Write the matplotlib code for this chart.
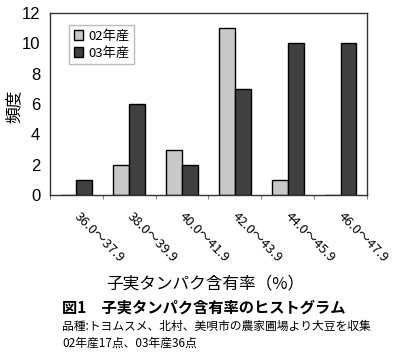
import matplotlib
matplotlib.use("Agg")
import matplotlib.pyplot as plt
import numpy as np

plt.rcParams['font.family'] = ['Noto Sans CJK JP', 'DejaVu Sans']

categories = ["36.0～37.9", "38.0～39.9", "40.0～41.9", "42.0～43.9", "44.0～45.9", "46.0～47.9"]
s02 = [0, 2, 3, 11, 1, 0]
s03 = [1, 6, 2, 7, 10, 10]
series_names = ["02年産", "03年産"]

fig = plt.figure(figsize=(4.0, 3.54), dpi=100)
ax = fig.add_axes([50/400, 1-195/354, 317/400, 182/354])

x = np.arange(len(categories))
w = 0.3
ax.bar(x - w/2, s02, w, color="#c8c8c8", edgecolor="black", linewidth=1.0, label=series_names[0])
ax.bar(x + w/2, s03, w, color="#404040", edgecolor="black", linewidth=1.0, label=series_names[1])

ax.set_xlim(-0.5, len(categories) - 0.5)
ax.set_ylim(0, 12)
ax.set_yticks(range(0, 13, 2))
ax.tick_params(axis='y', length=0, pad=7)
for lab in ax.get_yticklabels():
    lab.set_fontfamily(['Liberation Sans', 'DejaVu Sans'])
    lab.set_fontsize(12)
ax.set_xticks(np.arange(len(categories) + 1) - 0.5)
ax.set_xticklabels([])
ax.tick_params(axis='x', length=3, direction='out', color='#888888')
for i, c in enumerate(categories):
    ax.text(i + 0.08, -1.0, c, rotation=-45, ha='left', va='top', rotation_mode='anchor',
            fontsize=9.5, transform=ax.transData)
for s in ax.spines.values():
    s.set_linewidth(1.0)
    s.set_color('#333333')

fig.text(14/400, 1-106/354, "頻度", rotation=90, ha='center', va='center', fontsize=12)

leg = ax.legend(loc='upper left', bbox_to_anchor=(0.04, 0.97), frameon=True, fancybox=False,
                edgecolor='#aaaaaa', fontsize=9.5, handlelength=0.7, handleheight=0.7,
                handletextpad=0.4, borderpad=0.35, labelspacing=0.3)

fig.text(205/400, 1-284/354, "子実タンパク含有率（%）", ha='center', va='center', fontsize=12)
fig.text(62/400, 1-308/354, "図1　子実タンパク含有率のヒストグラム", ha='left', va='center', fontsize=11, fontweight='bold')
fig.text(62/400, 1-326/354, "品種:トヨムスメ、北村、美唄市の農家圃場より大豆を収集", ha='left', va='center', fontsize=8.5)
fig.text(62/400, 1-343/354, "02年産17点、03年産36点", ha='left', va='center', fontsize=8.5)

fig.savefig("out.png", dpi=100)
